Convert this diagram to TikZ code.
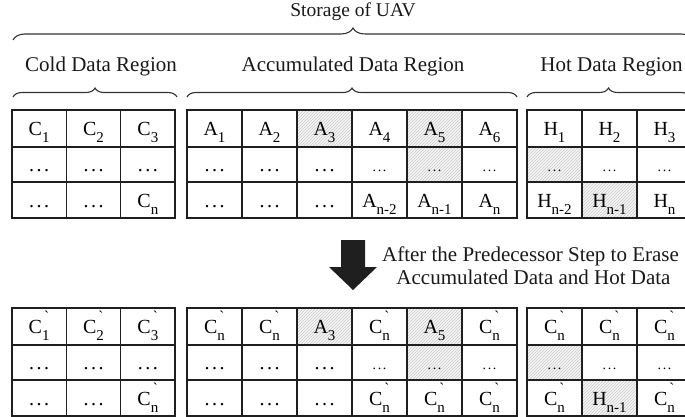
\documentclass[tikz,border=0pt]{standalone}
\usepackage{fontspec}
\setmainfont{Liberation Serif}[Ligatures=TeXOff]
\usetikzlibrary{patterns,decorations.pathreplacing}

% letter with a lowered index
\newcommand\subsc[2]{#1\raisebox{-0.36em}{\fontsize{15}{15}\selectfont #2}}
% letter with a lowered index and a grave mark above it
\newcommand\gsub[2]{#1\makebox[0pt][l]{\hspace{2pt}\raisebox{0.6em}{\fontsize{15}{15}\selectfont\symbol{96}}}\raisebox{-0.36em}{\fontsize{15}{15}\selectfont #2}}
% wide and small ellipses
\newcommand\sdots{.\hspace{2.5pt}.\hspace{2.5pt}.}
\newcommand\tdots{{\fontsize{14}{14}\selectfont .\hspace{1.6pt}.\hspace{1.6pt}.}}

% one row of storage cells: prefix, left x, cell width, top y, bottom y, cells
\newcommand\tabrow[6]{%
  \foreach \k/\sty/\txt in {#6}{%
    \node[cellbox,\sty,minimum width={#3*1pt},minimum height={(#5-#4)*1pt}]
      (#1-\k) at ({#2+#3*(\k+0.5)},{(#4+#5)/2}) {\txt};
  }}

\tikzset{
  cellbox/.style={draw=black!88, line width=1.5pt, inner sep=0pt,
    text height=14pt, text depth=0pt, font=\fontsize{20}{20}\selectfont},
  plain/.style={},
  hatch/.style={preaction={fill=gray!7}, pattern=north east lines, pattern color=gray!42},
  lbl/.style={anchor=base, inner sep=0pt, text=black!90, font=\fontsize{21}{24}\selectfont},
  brc/.style={draw=black!80, line width=1.1pt, decorate},
}

\begin{document}
\begin{tikzpicture}[x=1pt,y=-1pt]
\useasboundingbox (0,0) rectangle (685,417);
\clip (0,0) rectangle (685,417);

% titles and braces
\node[lbl, font=\fontsize{19.5}{22}\selectfont] (storage) at (353,17) {Storage of UAV};
\draw[brc, decoration={brace, amplitude=12pt}] (13,40) -- (693,40);
\node[lbl] (coldlbl) at (101,72) {Cold Data Region};
\node[lbl] (acclbl) at (353,72) {Accumulated Data Region};
\node[lbl] (hotlbl) at (611.5,72) {Hot Data Region};
\draw[brc, decoration={brace, amplitude=9pt}] (13,97) -- (177,97);
\draw[brc, decoration={brace, amplitude=9pt}] (187,97) -- (517,97);
\draw[brc, decoration={brace, amplitude=9pt}] (527,97) -- (690,97);

% storage before erasing
\tabrow{ca1}{12}{54.333}{110}{147}{0/plain/{\subsc{C}{1}},1/plain/{\subsc{C}{2}},2/plain/{\subsc{C}{3}}}
\tabrow{ca2}{12}{54.333}{147}{182}{0/plain/\sdots,1/plain/\sdots,2/plain/\sdots}
\tabrow{ca3}{12}{54.333}{182}{218}{0/plain/\sdots,1/plain/\sdots,2/plain/{\subsc{C}{n}}}

\tabrow{aa1}{187}{55}{110}{147}{0/plain/{\subsc{A}{1}},1/plain/{\subsc{A}{2}},2/hatch/{\subsc{A}{3}},3/plain/{\subsc{A}{4}},4/hatch/{\subsc{A}{5}},5/plain/{\subsc{A}{6}}}
\tabrow{aa2}{187}{55}{147}{182}{0/plain/\sdots,1/plain/\sdots,2/plain/\sdots,3/plain/\tdots,4/hatch/\tdots,5/plain/\tdots}
\tabrow{aa3}{187}{55}{182}{218}{0/plain/\sdots,1/plain/\sdots,2/plain/\sdots,3/plain/{\subsc{A}{n-2}},4/plain/{\subsc{A}{n-1}},5/plain/{\subsc{A}{n}}}

\tabrow{ha1}{527}{55}{110}{147}{0/plain/{\subsc{H}{1}},1/plain/{\subsc{H}{2}},2/plain/{\subsc{H}{3}}}
\tabrow{ha2}{527}{55}{147}{182}{0/hatch/\tdots,1/plain/\tdots,2/plain/\tdots}
\tabrow{ha3}{527}{55}{182}{218}{0/plain/{\subsc{H}{n-2}},1/hatch/{\subsc{H}{n-1}},2/plain/{\subsc{H}{n}}}

% erase step
\fill[black!88] (341,240) -- (365,240) -- (365,267) -- (377,267) -- (353,290) -- (329,267) -- (341,267) -- cycle;
\node[lbl] (step1) at (530.5,261) {After the Predecessor Step to Erase};
\node[lbl] (step2) at (533.5,284) {Accumulated Data and Hot Data};

% storage after erasing
\tabrow{cb1}{12}{54.333}{308}{345}{0/plain/{\gsub{C}{1}},1/plain/{\gsub{C}{2}},2/plain/{\gsub{C}{3}}}
\tabrow{cb2}{12}{54.333}{345}{380}{0/plain/\sdots,1/plain/\sdots,2/plain/\sdots}
\tabrow{cb3}{12}{54.333}{380}{416}{0/plain/\sdots,1/plain/\sdots,2/plain/{\gsub{C}{n}}}

\tabrow{ab1}{187}{55}{308}{345}{0/plain/{\gsub{C}{n}},1/plain/{\gsub{C}{n}},2/hatch/{\subsc{A}{3}},3/plain/{\gsub{C}{n}},4/hatch/{\subsc{A}{5}},5/plain/{\gsub{C}{n}}}
\tabrow{ab2}{187}{55}{345}{380}{0/plain/\sdots,1/plain/\sdots,2/plain/\sdots,3/plain/\tdots,4/hatch/\tdots,5/plain/\tdots}
\tabrow{ab3}{187}{55}{380}{416}{0/plain/\sdots,1/plain/\sdots,2/plain/\sdots,3/plain/{\gsub{C}{n}},4/plain/{\gsub{C}{n}},5/plain/{\gsub{C}{n}}}

\tabrow{hb1}{527}{55}{308}{345}{0/plain/{\gsub{C}{n}},1/plain/{\gsub{C}{n}},2/plain/{\gsub{C}{n}}}
\tabrow{hb2}{527}{55}{345}{380}{0/hatch/\tdots,1/plain/\tdots,2/plain/\tdots}
\tabrow{hb3}{527}{55}{380}{416}{0/plain/{\gsub{C}{n}},1/hatch/{\subsc{H}{n-1}},2/plain/{\gsub{C}{n}}}
\end{tikzpicture}
\end{document}
